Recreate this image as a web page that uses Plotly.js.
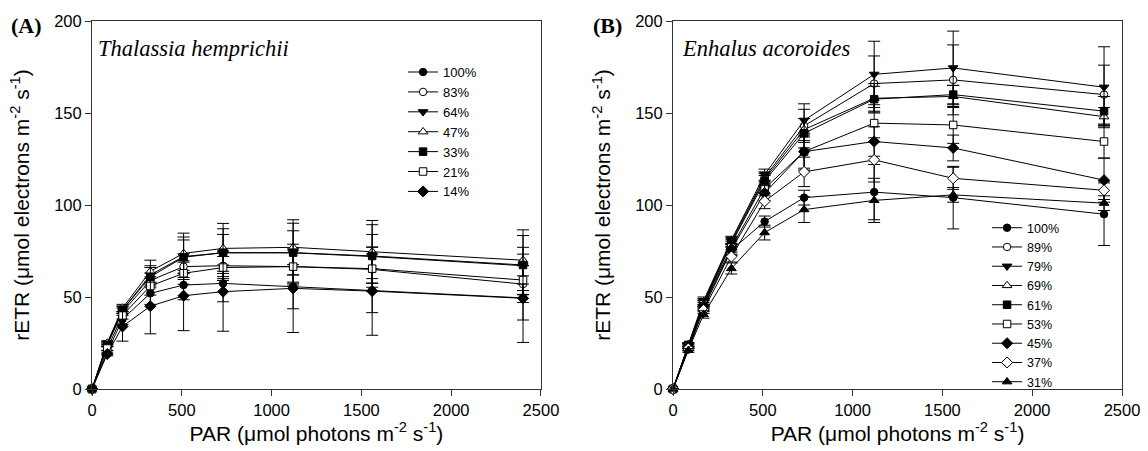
<!DOCTYPE html>
<html>
<head>
<meta charset="utf-8">
<script src="https://cdn.plot.ly/plotly-3.0.1.min.js"></script>
<style>html,body{margin:0;padding:0;background:#fff;}#chart{width:1148px;height:451px;}</style>
</head>
<body>
<div id="chart"></div>
<script>
// ---- data ----
const PAR = [0, 85, 170, 325, 510, 730, 1120, 1560, 2400];

// Panel A: Thalassia hemprichii
const namesA = ['100%', '83%', '64%', '47%', '33%', '21%', '14%'];
const A_100 = [0, 20, 38, 52, 56.5, 57.4, 55.6, 53.5, 49.5];
const A_83  = [0, 24, 42, 59, 66.5, 67, 66.5, 65, 57];
const A_64  = [0, 25, 43, 62, 72, 74, 74, 72, 67];
const A_47  = [0, 25, 44, 64, 73.7, 76.4, 77, 74.6, 70];
const A_33  = [0, 24, 43, 61, 71.6, 74.1, 74.1, 72.3, 67.4];
const A_21  = [0, 22, 40, 56, 62.9, 66, 66.5, 65.4, 59.2];
const A_14  = [0, 19, 34, 45, 50.7, 52.9, 54.7, 53.2, 49.3];
const errA_100 = [0, 1, 3, 6, 8, 10, 12, 12, 12];
const errA_83  = [0, 1, 2, 4, 7, 8, 10, 12, 10];
const errA_64  = [0, 1, 2, 5, 9, 10, 12, 12, 10];
const errA_47  = [0, 1, 2, 6, 11, 13.6, 15, 17, 16.5];
const errA_33  = [0, 1, 2, 5, 11, 13, 16, 17, 16];
const errA_21  = [0, 1, 2, 5, 6, 6, 9, 8, 8];
const errA_14  = [0, 1, 8, 15, 19, 21.5, 24, 24, 24];

// Panel B: Enhalus acoroides
const namesB = ['100%', '89%', '79%', '69%', '61%', '53%', '45%', '37%', '31%'];
const B_100 = [0, 22, 44, 75.5, 91, 104, 107, 104, 95];
const B_89  = [0, 24, 47, 80.5, 115, 143, 166, 168, 160];
const B_79  = [0, 24, 48, 81, 116.5, 146, 171, 174.5, 164];
const B_69  = [0, 24, 46, 79.5, 114, 141, 158, 159, 148];
const B_61  = [0, 24, 47, 79, 113, 139, 157.5, 160, 151];
const B_53  = [0, 23, 46, 77, 109, 129, 144.5, 143.5, 134.5];
const B_45  = [0, 23, 45, 76, 106.5, 129, 134.5, 131, 113.5];
const B_37  = [0, 22, 43, 72, 102, 118, 124.5, 114.5, 108];
const B_31  = [0, 21, 40.5, 65.5, 85, 97.5, 102.5, 105.5, 101];
const errB_100 = [0, 1, 2, 3, 3, 4, 15, 17, 17];
const errB_89  = [0, 1, 2, 2, 3, 9, 15, 19, 16];
const errB_79  = [0, 1, 2, 2, 3, 9, 18, 20, 22];
const errB_69  = [0, 1, 2, 2, 3, 6, 8, 6, 5];
const errB_61  = [0, 1, 2, 2, 3, 8, 7, 5, 8];
const errB_53  = [0, 1, 2, 3, 4, 9, 10, 10, 9];
const errB_45  = [0, 1, 2, 3, 4, 10, 8, 7, 12];
const errB_37  = [0, 1, 2, 3, 4, 8, 12, 6, 5];
const errB_31  = [0, 1, 2, 3, 4, 7, 12, 4, 4];

// ---- styles ----
const stylesA = [['circle',true],['circle',false],['triangle-down',true],['triangle-up',false],['square',true],['square',false],['diamond',true]];
const stylesB = [['circle',true],['circle',false],['triangle-down',true],['triangle-up',false],['square',true],['square',false],['diamond',true],['diamond',false],['triangle-up',true]];
const seriesA = [A_100, A_83, A_64, A_47, A_33, A_21, A_14];
const errsA = [errA_100, errA_83, errA_64, errA_47, errA_33, errA_21, errA_14];
const seriesB = [B_100, B_89, B_79, B_69, B_61, B_53, B_45, B_37, B_31];
const errsB = [errB_100, errB_89, errB_79, errB_69, errB_61, errB_53, errB_45, errB_37, errB_31];

function mk(name, ys, errs, style, xa, ya, leg) {
  const sz = style[0] === 'diamond' ? 8.5 : (style[0].indexOf('triangle') === 0 ? 8.5 : 7.5);
  return {
    type: 'scatter', mode: 'lines+markers', name: name,
    x: PAR, y: ys, xaxis: xa, yaxis: ya, legend: leg,
    cliponaxis: false,
    line: {color: '#000', width: 1},
    marker: {symbol: style[0], size: sz, color: style[1] ? '#000' : '#fff', line: {color: '#000', width: 1}},
    error_y: {type: 'data', array: errs, visible: true, color: '#000', thickness: 1, width: 6}
  };
}
const traces = [];
seriesA.forEach((s, i) => traces.push(mk(namesA[i], s, errsA[i], stylesA[i], 'x', 'y', 'legend')));
seriesB.forEach((s, i) => traces.push(mk(namesB[i], s, errsB[i], stylesB[i], 'x2', 'y2', 'legend2')));

const sans = 'Liberation Sans, Arial, sans-serif';
const serif = 'Liberation Serif, Times New Roman, serif';
const xTitle = 'PAR (μmol photons m<sup>-2</sup> s<sup>-1</sup>)';
const yTitle = 'rETR (μmol electrons m<sup>-2</sup> s<sup>-1</sup>)';

function xax(domain, anchor) {
  return {domain: domain, anchor: anchor, range: [0, 2500], tickvals: [0, 500, 1000, 1500, 2000, 2500],
    showline: true, mirror: true, linecolor: '#333', linewidth: 1, showgrid: false, zeroline: false,
    ticks: 'outside', ticklen: 6, tickcolor: '#333', tickfont: {family: sans, size: 16.5, color: '#000'},
    title: {text: xTitle, font: {family: sans, size: 21, color: '#000'}, standoff: 8}};
}
function yax(anchor) {
  return {domain: [0, 1], anchor: anchor, range: [0, 200], tickvals: [0, 50, 100, 150, 200],
    showline: true, mirror: true, linecolor: '#333', linewidth: 1, showgrid: false, zeroline: false,
    ticks: 'outside', ticklen: 6, tickcolor: '#333', tickfont: {family: sans, size: 16.5, color: '#000'},
    title: {text: yTitle, font: {family: sans, size: 21, color: '#000'}, standoff: 18}};
}

const layout = {
  width: 1148, height: 451,
  margin: {l: 92, r: 26, t: 21, b: 62},
  paper_bgcolor: '#fff', plot_bgcolor: '#fff',
  xaxis: xax([0, 0.4359], 'y'),
  yaxis: yax('x'),
  xaxis2: xax([0.5641, 1], 'y2'),
  yaxis2: yax('x2'),
  legend: {x: 0.302, y: 0.902, xanchor: 'left', yanchor: 'top', bgcolor: 'rgba(0,0,0,0)',
    font: {family: sans, size: 13, color: '#000'}, tracegroupgap: 0},
  legend2: {x: 0.869, y: 0.478, xanchor: 'left', yanchor: 'top', bgcolor: 'rgba(0,0,0,0)',
    font: {family: sans, size: 12.5, color: '#000'}, tracegroupgap: 0},
  annotations: [
    {text: '<b>(A)</b>', xref: 'paper', yref: 'paper', x: -0.0636, y: 0.989, xanchor: 'center', yanchor: 'middle', showarrow: false, font: {family: serif, size: 22, color: '#000'}},
    {text: '<b>(B)</b>', xref: 'paper', yref: 'paper', x: 0.5005, y: 0.989, xanchor: 'center', yanchor: 'middle', showarrow: false, font: {family: serif, size: 22, color: '#000'}},
    {text: '<i>Thalassia hemprichii</i>', xref: 'x domain', yref: 'y domain', x: 0.008, y: 0.9266, xanchor: 'left', yanchor: 'middle', showarrow: false, font: {family: serif, size: 22.5, color: '#000'}},
    {text: '<i>Enhalus acoroides</i>', xref: 'x2 domain', yref: 'y2 domain', x: 0.016, y: 0.9266, xanchor: 'left', yanchor: 'middle', showarrow: false, font: {family: serif, size: 22.5, color: '#000'}}
  ]
};

Plotly.newPlot('chart', traces, layout, {displayModeBar: false, staticPlot: true});
</script>
</body>
</html>
